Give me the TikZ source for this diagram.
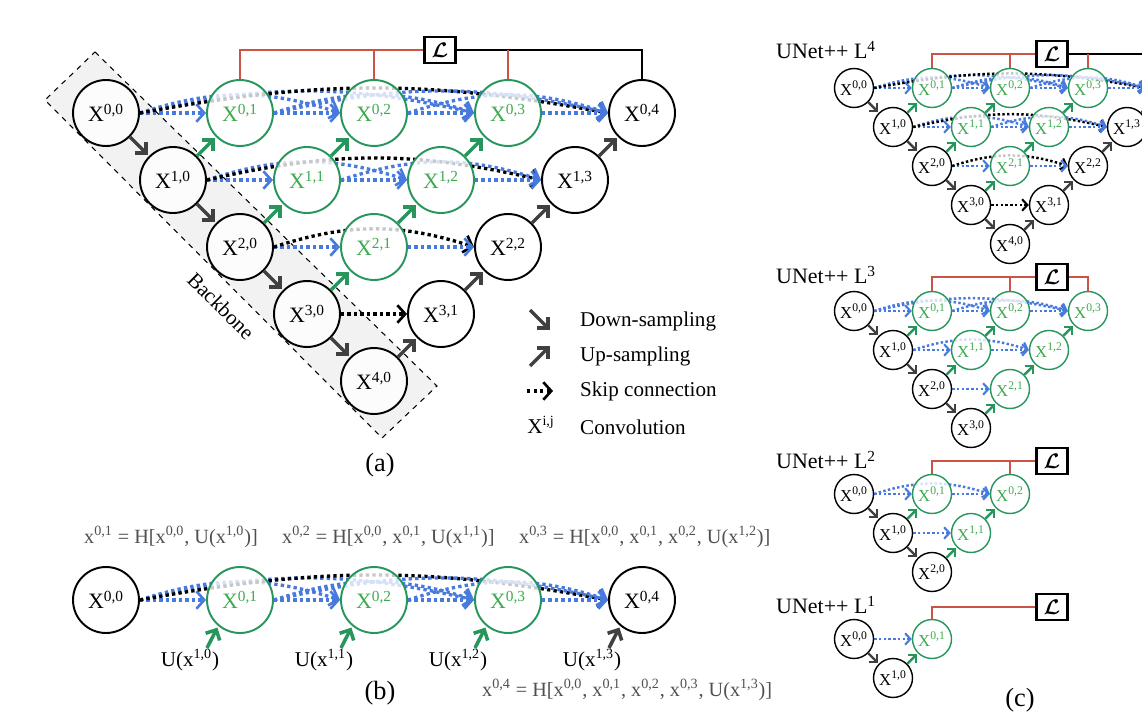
\documentclass[tikz,border=0pt]{standalone}
\usepackage{fontspec}
\setmainfont{Liberation Serif}
\usepackage{amsmath,bm}
\usetikzlibrary{arrows.meta, positioning, backgrounds}

\definecolor{nodegreen}{RGB}{38,150,92}
\definecolor{textgreen}{RGB}{62,170,78}
\definecolor{skipblue}{RGB}{72,122,222}
\definecolor{lossred}{RGB}{204,84,70}
\definecolor{arrowgray}{RGB}{64,64,64}
\definecolor{eqgray}{RGB}{80,80,80}

%% one nested UNet++ of a given depth
%%   #1 name prefix, #2/#3 position of X^{0,0}, #4 row step,
%%   #5 depth, #6 size (big / small)
\newcommand{\unetpp}[6]{%
  %% nodes
  \foreach \i in {0,...,#5}{%
    \pgfmathtruncatemacro{\jmax}{#5-\i}%
    \foreach \j in {0,...,\jmax}{%
      \pgfmathtruncatemacro{\isgreen}{(\j>0)&&!((#5==4)&&(\i+\j==4))}%
      \ifnum\isgreen=1 \def\nstyle{greennode}\else\def\nstyle{blacknode}\fi
      \node[#6node, \nstyle] (#1-\i\j) at ({#2+#4*(\i+2*\j)}, {#3+#4*\i})
        {X\textsuperscript{\i,\j}};
    }%
  }%
  %% down-sampling
  \foreach \i in {1,...,#5}{%
    \pgfmathtruncatemacro{\ip}{\i-1}%
    \draw[#6arrow, arrowgray] (#1-\ip0) -- (#1-\i0);
  }%
  %% up-sampling
  \foreach \i in {0,...,#5}{%
    \pgfmathtruncatemacro{\jmax}{#5-\i}%
    \ifnum\jmax>0
      \foreach \j in {1,...,\jmax}{%
        \pgfmathtruncatemacro{\ii}{\i+1}%
        \pgfmathtruncatemacro{\jj}{\j-1}%
        \pgfmathtruncatemacro{\isgreen}{!((#5==4)&&(\i+\j==4))}%
        \ifnum\isgreen=1 \def\acol{nodegreen}\else\def\acol{arrowgray}\fi
        \draw[#6arrow, \acol] (#1-\ii\jj) -- (#1-\i\j);
      }%
    \fi
  }%
  %% skip connections (behind the nodes)
  \begin{scope}[on background layer]
    \foreach \i in {0,...,#5}{%
      \pgfmathtruncatemacro{\jmax}{#5-\i}%
      \foreach \j in {0,...,\jmax}{%
        \foreach \k in {\j,...,\jmax}{%
          \pgfmathtruncatemacro{\gap}{\k-\j}%
          \pgfmathtruncatemacro{\isblack}{(#5==4)&&(\j==0)&&(\k==4-\i)}%
          \ifnum\isblack=1 \def\scol{black}\else\def\scol{skipblue}\fi
          \ifnum\gap=1
            \draw[#6skip, \scol] (#1-\i\j) -- (#1-\i\k);
          \fi
          \ifnum\gap>1
            \pgfmathsetmacro{\bend}{30/\gap+3}%
            \draw[#6skip, \scol] (#1-\i\j.east) to[bend left=\bend] (#1-\i\k.west);
          \fi
        }%
      }%
    }%
  \end{scope}
}

\begin{document}
\begin{tikzpicture}[x=0.02cm, y=-0.02cm,
    font=\fontsize{12}{14}\selectfont,
    bignode/.style={circle, line width=1.1pt, minimum size=1.32cm, inner sep=0pt, fill=white, fill opacity=0.78, text opacity=1, font=\fontsize{12.5}{12}\selectfont},
    smallnode/.style={circle, line width=0.8pt, minimum size=0.78cm, inner sep=0pt, fill=white, fill opacity=0.78, text opacity=1, font=\fontsize{9.5}{10}\selectfont},
    blacknode/.style={draw=black, text=black},
    greennode/.style={draw=nodegreen, text=textgreen},
    bigskip/.style={line width=1.9pt, dash pattern=on 1.9pt off 1.8pt, -{Straight Barb[length=4.5pt, width=10pt, line width=1.5pt]}},
    smallskip/.style={line width=1.4pt, dash pattern=on 1.4pt off 1.3pt, -{Straight Barb[length=3pt, width=6.5pt, line width=1.2pt]}},
    bigarrow/.style={line width=2pt, -{Straight Barb[length=4.5pt, width=9pt]}, shorten >=1pt},
    smallarrow/.style={line width=1.4pt, -{Straight Barb[length=3pt, width=6pt]}, shorten >=0.5pt},
    lossbox/.style={draw, line width=1.6pt, fill=white, minimum width=0.62cm, minimum height=0.52cm, inner sep=0pt, font=\fontsize{12}{12}\selectfont},
    lossline/.style={line width=1.5pt},
    eq/.style={anchor=west, text=eqgray, font=\fontsize{11.5}{13}\selectfont},
    caption/.style={font=\fontsize{15}{17}\selectfont},
    panel/.style={anchor=west, font=\fontsize{12.5}{14}\selectfont}
]
\useasboundingbox (0,0) rectangle (1142,723);

%% ── (a) full UNet++ ─────────────────────────────────────────────────
\begin{scope}[on background layer]
  \draw[dashed, fill=gray!10, line width=0.6pt] (95,52) -- (437,386) -- (382,438) -- (45,100) -- cycle;
\end{scope}
\node[rotate=-45] (backbone) at (221,306) {Backbone};

\unetpp{a}{106}{113}{67}{4}{big}

\node[lossbox] (a-loss) at (440,50) {$\bm{\mathcal{L}}$};
\draw[lossline, lossred] (a-01.north) |- (a-loss.west);
\draw[lossline, lossred] (a-02.north) -- (a-02.north |- a-loss.west);
\draw[lossline] (a-loss.east) -| (a-04.north);
\draw[lossline, lossred] (a-03.north) -- (a-03.north |- a-loss.east);

%% legend
\coordinate (lg-d1) at (530,310); \coordinate (lg-d2) at (551,331);
\coordinate (lg-u1) at (530,366); \coordinate (lg-u2) at (551,345);
\coordinate (lg-s1) at (527,391); \coordinate (lg-s2) at (553,391);
\draw[bigarrow, arrowgray] (lg-d1) -- (lg-d2);
\draw[bigarrow, arrowgray] (lg-u1) -- (lg-u2);
\draw[bigskip, black] (lg-s1) -- (lg-s2);
\node[anchor=west] (lg-down) at (574,321) {Down-sampling};
\node[anchor=west] (lg-up)   at (574,356) {Up-sampling};
\node[anchor=west] (lg-skip) at (574,391) {Skip connection};
\node[anchor=west] (lg-conv) at (574,427) {Convolution};
\node (lg-x) at (541,425) {X\textsuperscript{i,j}};

\node[caption] (cap-a) at (380,465) {(a)};

%% ── (b) top row of UNet++ ───────────────────────────────────────────
\foreach \j/\s in {0/blacknode, 1/greennode, 2/greennode, 3/greennode, 4/blacknode}
  \node[bignode, \s] (b-0\j) at ({106+134*\j}, 600) {X\textsuperscript{0,\j}};
\begin{scope}[on background layer]
  \foreach \j in {0,...,3}{%
    \foreach \k in {\j,...,4}{%
      \pgfmathtruncatemacro{\gap}{\k-\j}%
      \ifnum\gap=1
        \draw[bigskip, skipblue] (b-0\j) -- (b-0\k);
      \fi
      \ifnum\gap>1
        \pgfmathsetmacro{\bend}{30/\gap+3}%
        \ifnum\gap=4 \def\scol{black}\else\def\scol{skipblue}\fi
        \draw[bigskip, \scol] (b-0\j.east) to[bend left=\bend] (b-0\k.west);
      \fi
    }%
  }%
\end{scope}
\foreach \j/\u/\c in {1/0/nodegreen, 2/1/nodegreen, 3/2/nodegreen, 4/3/arrowgray}{%
  \node (u-\u) at ({56+134*\j}, 660) {U(x\textsuperscript{1,\u})};
  \coordinate (ut-\u) at ({73+134*\j}, 648);
  \draw[bigarrow, \c] (ut-\u) -- (b-0\j.230);
}

\node[eq] (eq-01) at (78,537)  {x\textsuperscript{0,1} = H[x\textsuperscript{0,0}, U(x\textsuperscript{1,0})]};
\node[eq] (eq-02) at (276,537) {x\textsuperscript{0,2} = H[x\textsuperscript{0,0}, x\textsuperscript{0,1}, U(x\textsuperscript{1,1})]};
\node[eq] (eq-03) at (513,537) {x\textsuperscript{0,3} = H[x\textsuperscript{0,0}, x\textsuperscript{0,1}, x\textsuperscript{0,2}, U(x\textsuperscript{1,2})]};
\node[eq] (eq-04) at (476,690) {x\textsuperscript{0,4} = H[x\textsuperscript{0,0}, x\textsuperscript{0,1}, x\textsuperscript{0,2}, x\textsuperscript{0,3}, U(x\textsuperscript{1,3})]};

\node[caption] (cap-b) at (380,693) {(b)};

%% ── (c) pruned UNet++ L4 ... L1 ─────────────────────────────────────
\node[panel] (c4-title) at (770,50) {UNet++ L\textsuperscript{4}};
\unetpp{c4}{854}{88}{39}{4}{small}
\node[lossbox] (c4-loss) at (1052,54) {$\bm{\mathcal{L}}$};
\draw[lossline, lossred] (c4-01.north) |- (c4-loss.west);
\draw[lossline, lossred] (c4-02.north) -- (c4-02.north |- c4-loss.west);
\draw[lossline] (c4-loss.east) -| (c4-04.north);
\draw[lossline, lossred] (c4-03.north) -- (c4-03.north |- c4-loss.east);

\node[panel] (c3-title) at (770,275) {UNet++ L\textsuperscript{3}};
\unetpp{c3}{854}{311}{39}{3}{small}
\node[lossbox] (c3-loss) at (1052,277) {$\bm{\mathcal{L}}$};
\draw[lossline, lossred] (c3-01.north) |- (c3-loss.west);
\draw[lossline, lossred] (c3-02.north) -- (c3-02.north |- c3-loss.west);
\draw[lossline, lossred] (c3-loss.east) -| (c3-03.north);

\node[panel] (c2-title) at (770,460) {UNet++ L\textsuperscript{2}};
\unetpp{c2}{854}{494}{39}{2}{small}
\node[lossbox] (c2-loss) at (1052,461) {$\bm{\mathcal{L}}$};
\draw[lossline, lossred] (c2-01.north) |- (c2-loss.west);
\draw[lossline, lossred] (c2-02.north) -- (c2-02.north |- c2-loss.west);

\node[panel] (c1-title) at (770,605) {UNet++ L\textsuperscript{1}};
\unetpp{c1}{854}{639}{39}{1}{small}
\node[lossbox] (c1-loss) at (1052,607) {$\bm{\mathcal{L}}$};
\draw[lossline, lossred] (c1-01.north) |- (c1-loss.west);

\node[caption] (cap-c) at (1020,700) {(c)};

\end{tikzpicture}
\end{document}
